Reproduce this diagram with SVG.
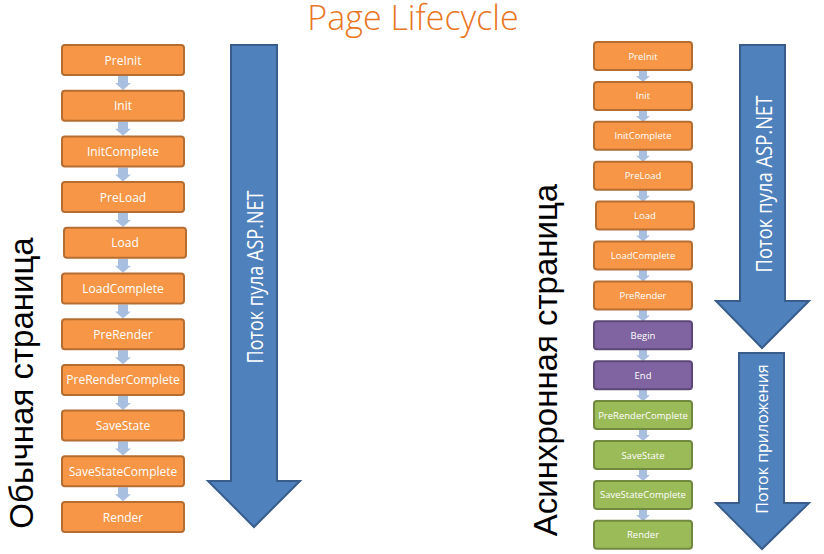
<svg xmlns="http://www.w3.org/2000/svg" width="824" height="554" viewBox="0 0 824 554">
<defs>
<style>
.o{fill:#f79646;stroke:#b66d31;stroke-width:2}
.p{fill:#8064a2;stroke:#5c4776;stroke-width:2}
.g{fill:#9bbb59;stroke:#71893f;stroke-width:2}
.t{fill:#fff;font-family:"Open Sans","Noto Sans",sans-serif;text-anchor:middle}
.tl{font-size:12px}
.tr{font-size:9.5px}
.c{fill:#a9bfdf}
.big{fill:#4f81bd;stroke:#385d8a;stroke-width:2}
.at{fill:#fff;font-family:"Open Sans","Noto Sans",sans-serif;font-size:21px;text-anchor:middle}
.at2{fill:#fff;font-family:"Open Sans","Noto Sans",sans-serif;font-size:16px;text-anchor:middle}
.side{fill:#000;font-family:"Liberation Sans",Arial,sans-serif;font-size:33px;text-anchor:middle}
</style>
<path id="ca" class="c" d="M-5 0h10v7h3l-8 7l-8-7h3z"/>
<path id="cb" class="c" d="M-4 0h8v6h3l-7 6l-7-6h3z"/>
</defs>
<text x="413" y="30" fill="#e8761f" font-family="'Open Sans','Noto Sans',sans-serif" font-size="34" font-weight="300" text-anchor="middle">Page Lifecycle</text>

<g id="connectors">
<use href="#ca" x="123" y="76"/>
<use href="#ca" x="123" y="121.7"/>
<use href="#ca" x="123" y="167.4"/>
<use href="#ca" x="123" y="213.1"/>
<use href="#ca" x="123" y="258.8"/>
<use href="#ca" x="123" y="304.5"/>
<use href="#ca" x="123" y="350.2"/>
<use href="#ca" x="123" y="395.9"/>
<use href="#ca" x="123" y="441.6"/>
<use href="#ca" x="123" y="487.3"/>

<use href="#cb" x="643" y="70"/>
<use href="#cb" x="643" y="109.9"/>
<use href="#cb" x="643" y="149.8"/>
<use href="#cb" x="643" y="189.7"/>
<use href="#cb" x="643" y="229.6"/>
<use href="#cb" x="643" y="269.5"/>
<use href="#cb" x="643" y="309.4"/>
<use href="#cb" x="643" y="349.3"/>
<use href="#cb" x="643" y="389.2"/>
<use href="#cb" x="643" y="429.1"/>
<use href="#cb" x="643" y="469"/>
<use href="#cb" x="643" y="508.9"/>
</g>

<g id="l-preinit"><rect class="o" x="62" y="45" width="122" height="30" rx="3"/><text class="t tl" x="123" y="64.5">PreInit</text></g>
<g id="l-init"><rect class="o" x="62" y="90.7" width="122" height="30" rx="3"/><text class="t tl" x="123" y="110.2">Init</text></g>
<g id="l-initcomplete"><rect class="o" x="62" y="136.4" width="122" height="30" rx="3"/><text class="t tl" x="123" y="155.9">InitComplete</text></g>
<g id="l-preload"><rect class="o" x="62" y="182.1" width="122" height="30" rx="3"/><text class="t tl" x="123" y="201.6">PreLoad</text></g>
<g id="l-load"><rect class="o" x="64" y="227.8" width="122" height="30" rx="3"/><text class="t tl" x="125" y="247.3">Load</text></g>
<g id="l-loadcomplete"><rect class="o" x="62" y="273.5" width="122" height="30" rx="3"/><text class="t tl" x="123" y="293">LoadComplete</text></g>
<g id="l-prerender"><rect class="o" x="62" y="319.2" width="122" height="30" rx="3"/><text class="t tl" x="123" y="338.7">PreRender</text></g>
<g id="l-prerendercomplete"><rect class="o" x="62" y="364.9" width="122" height="30" rx="3"/><text class="t tl" x="123" y="384.4">PreRenderComplete</text></g>
<g id="l-savestate"><rect class="o" x="62" y="410.6" width="122" height="30" rx="3"/><text class="t tl" x="123" y="430.1">SaveState</text></g>
<g id="l-savestatecomplete"><rect class="o" x="62" y="456.3" width="122" height="30" rx="3"/><text class="t tl" x="123" y="475.8">SaveStateComplete</text></g>
<g id="l-render"><rect class="o" x="62" y="502" width="122" height="30" rx="3"/><text class="t tl" x="123" y="521.5">Render</text></g>

<g id="r-preinit"><rect class="o" x="594" y="42" width="98" height="28" rx="3"/><text class="t tr" x="643" y="59.5">PreInit</text></g>
<g id="r-init"><rect class="o" x="594" y="81.9" width="98" height="28" rx="3"/><text class="t tr" x="643" y="99.4">Init</text></g>
<g id="r-initcomplete"><rect class="o" x="594" y="121.8" width="98" height="28" rx="3"/><text class="t tr" x="643" y="139.3">InitComplete</text></g>
<g id="r-preload"><rect class="o" x="594" y="161.7" width="98" height="28" rx="3"/><text class="t tr" x="643" y="179.2">PreLoad</text></g>
<g id="r-load"><rect class="o" x="596" y="201.6" width="98" height="28" rx="3"/><text class="t tr" x="645" y="219.1">Load</text></g>
<g id="r-loadcomplete"><rect class="o" x="594" y="241.5" width="98" height="28" rx="3"/><text class="t tr" x="643" y="259">LoadComplete</text></g>
<g id="r-prerender"><rect class="o" x="594" y="281.4" width="98" height="28" rx="3"/><text class="t tr" x="643" y="298.9">PreRender</text></g>
<g id="r-begin"><rect class="p" x="594" y="321.3" width="98" height="28" rx="3"/><text class="t tr" x="643" y="338.8">Begin</text></g>
<g id="r-end"><rect class="p" x="594" y="361.2" width="98" height="28" rx="3"/><text class="t tr" x="643" y="378.7">End</text></g>
<g id="r-prerendercomplete"><rect class="g" x="594" y="401.1" width="98" height="28" rx="3"/><text class="t tr" x="643" y="418.6">PreRenderComplete</text></g>
<g id="r-savestate"><rect class="g" x="594" y="441" width="98" height="28" rx="3"/><text class="t tr" x="643" y="458.5">SaveState</text></g>
<g id="r-savestatecomplete"><rect class="g" x="594" y="480.9" width="98" height="28" rx="3"/><text class="t tr" x="643" y="498.4">SaveStateComplete</text></g>
<g id="r-render"><rect class="g" x="594" y="520.8" width="98" height="28" rx="3"/><text class="t tr" x="643" y="538.3">Render</text></g>

<g id="arrow-left"><path class="big" d="M231 45H277V481H300L254 527L208 481H231Z"/><text class="at" transform="translate(263 277) rotate(-90)" textLength="173" lengthAdjust="spacingAndGlyphs">Поток пула ASP.NET</text></g>
<g id="arrow-right-top"><path class="big" d="M740 45H785V301H809L762 348L716 301H740Z"/><text class="at" transform="translate(772 184) rotate(-90)" textLength="177" lengthAdjust="spacingAndGlyphs">Поток пула ASP.NET</text></g>
<g id="arrow-right-bottom"><path class="big" d="M739 353H784V503H809L762 549L716 503H739Z"/><text class="at2" transform="translate(768 439) rotate(-90)">Поток приложения</text></g>

<g id="label-left"><text class="side" transform="translate(33 383) rotate(-90)">Обычная страница</text></g>
<g id="label-right"><text class="side" transform="translate(557 360) rotate(-90)">Асинхронная страница</text></g>
</svg>
